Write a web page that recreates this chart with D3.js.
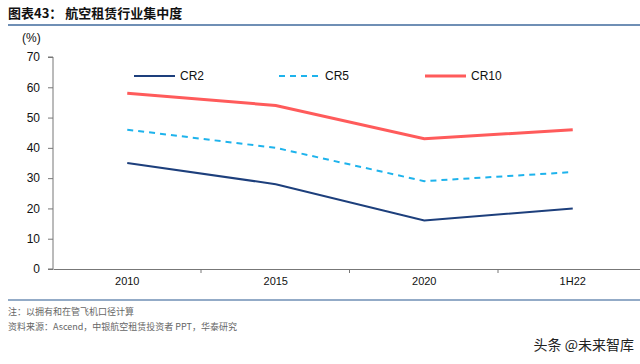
<!DOCTYPE html>
<html>
<head>
<meta charset="utf-8">
<script src="https://d3js.org/d3.v7.min.js"></script>
<style>
  body { margin: 0; background: #fff; }
  svg { display: block; font-family: "Liberation Sans", Arial, sans-serif; }
</style>
</head>
<body>
<svg width="640" height="364"></svg>
<script>
// data
var years = ["2010", "2015", "2020", "1H22"];
var cr2 = [35, 28, 16, 20];
var cr5 = [46, 40, 29, 32];
var cr10 = [58, 54, 43, 46];
var yTicks = [0, 10, 20, 30, 40, 50, 60, 70];

var series = [
  { name: "CR2", values: cr2, color: "#1d3f7c", width: 2, dash: null, lx: 134 },
  { name: "CR5", values: cr5, color: "#1eb3ec", width: 2, dash: "6,5", lx: 279 },
  { name: "CR10", values: cr10, color: "#ff5b5b", width: 3, dash: null, lx: 425 }
];

var svg = d3.select("svg");

// title
svg.append("text")
  .attr("x", 8).attr("y", 18)
  .attr("font-family", "'Noto Sans CJK SC', sans-serif")
  .attr("font-size", 13).attr("font-weight", "bold")
  .attr("fill", "#111")
  .text("图表43：  航空租赁行业集中度");
svg.append("line")
  .attr("x1", 8).attr("x2", 640).attr("y1", 25).attr("y2", 25)
  .attr("stroke", "#6f8fb5").attr("stroke-width", 2);

var x = d3.scaleBand().domain(years).range([53, 647]);
var y = d3.scaleLinear().domain([0, 70]).range([269, 57]);

// y axis
var yAxis = d3.axisLeft(y).tickValues(yTicks).tickSize(5).tickPadding(8);
var gy = svg.append("g").attr("transform", "translate(53,0)").call(yAxis);
gy.select(".domain").attr("stroke", "#777").attr("d", "M-5,57H0V269H-5");
gy.selectAll(".tick line").attr("stroke", "#777");
gy.selectAll("text").attr("font-size", 12).attr("fill", "#111")
  .attr("font-family", "'Liberation Sans', Arial, sans-serif");

svg.append("text")
  .attr("x", 22).attr("y", 42)
  .attr("font-size", 12).attr("fill", "#111")
  .text("(%)");

// x axis
var gx = svg.append("g").attr("transform", "translate(0,269)")
  .call(d3.axisBottom(x).tickSize(0).tickPadding(8));
gx.select(".domain").attr("stroke", "#777");
gx.selectAll("text").attr("font-size", 11).attr("fill", "#111")
  .attr("font-family", "'Liberation Sans', Arial, sans-serif");
// separator ticks between bands
gx.selectAll(".sep")
  .data(years.slice(1))
  .enter().append("line")
  .attr("x1", function(d) { return x(d) - 0.5; })
  .attr("x2", function(d) { return x(d) - 0.5; })
  .attr("y1", 0).attr("y2", 4)
  .attr("stroke", "#777");

// lines
var line = d3.line()
  .x(function(d, i) { return x(years[i]) + x.bandwidth() / 2; })
  .y(function(d) { return y(d); });

series.forEach(function(s) {
  svg.append("path")
    .datum(s.values)
    .attr("d", line)
    .attr("fill", "none")
    .attr("stroke", s.color)
    .attr("stroke-width", s.width)
    .attr("stroke-dasharray", s.dash);

  svg.append("line")
    .attr("x1", s.lx).attr("x2", s.lx + 41)
    .attr("y1", 76).attr("y2", 76)
    .attr("stroke", s.color)
    .attr("stroke-width", s.width)
    .attr("stroke-dasharray", s.dash);
  svg.append("text")
    .attr("x", s.lx + 46).attr("y", 80)
    .attr("font-size", 12).attr("fill", "#111")
    .text(s.name);
});

// footer
svg.append("line")
  .attr("x1", 8).attr("x2", 640).attr("y1", 300).attr("y2", 300)
  .attr("stroke", "#6f8fb5").attr("stroke-width", 1.5);

svg.append("text")
  .attr("x", 8).attr("y", 315)
  .attr("font-family", "'Noto Sans CJK SC', sans-serif")
  .attr("font-size", 9).attr("fill", "#666")
  .text("注：以拥有和在管飞机口径计算");
svg.append("text")
  .attr("x", 8).attr("y", 330)
  .attr("font-family", "'Noto Sans CJK SC', sans-serif")
  .attr("font-size", 9).attr("fill", "#666")
  .text("资料来源：Ascend，中银航空租赁投资者 PPT，华泰研究");

svg.append("text")
  .attr("x", 634).attr("y", 350)
  .attr("text-anchor", "end")
  .attr("font-family", "'Noto Sans CJK SC', sans-serif")
  .attr("font-size", 14).attr("fill", "#222")
  .text("头条 @未来智库");
</script>
</body>
</html>
